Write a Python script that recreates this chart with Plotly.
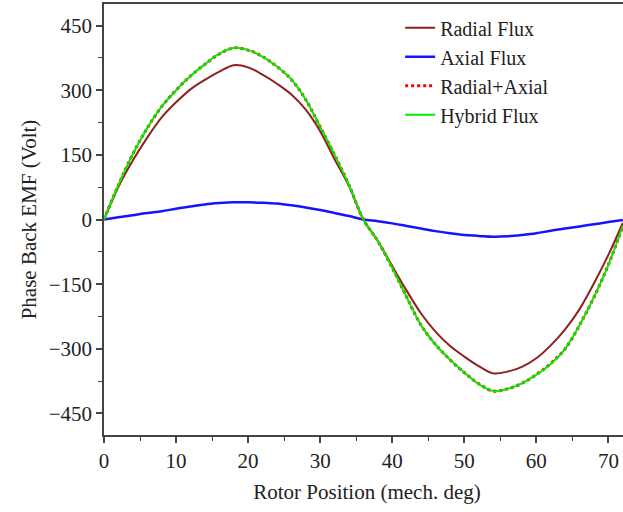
import plotly.graph_objects as go

# Rotor position (mech. deg)
position = [0, 2, 4, 6, 8, 10, 12, 14, 16, 18, 20, 22, 24, 26, 28, 30, 32, 34, 36,
            38, 40, 42, 44, 46, 48, 50, 52, 54, 56, 58, 60, 62, 64, 66, 68, 70, 72]

radial_flux = [0, 76, 137, 190, 237, 272, 302, 324, 343, 358, 353, 336, 315, 290, 255, 205, 140, 78, 0,
               -50, -108, -165, -218, -260, -293, -318, -340, -357, -353, -342, -322, -292, -255, -208, -148, -82, -8]

axial_flux = [0, 5, 10, 15, 19, 25, 30, 35, 38, 40, 40, 39, 37, 33, 28, 22, 15, 8, 0,
              -4, -9, -15, -21, -27, -32, -36, -38, -40, -39, -36, -32, -26, -21, -16, -11, -6, -1]

radial_plus_axial = [0, 80, 152, 212, 262, 300, 333, 360, 384, 398, 393, 378, 355, 325, 278, 215, 150, 80, 0,
                     -50, -112, -180, -245, -290, -325, -355, -381, -398, -393, -380, -360, -334, -300, -245, -180, -105, -15]

hybrid_flux = [0, 80, 152, 212, 262, 300, 333, 360, 385, 398, 393, 378, 355, 325, 278, 215, 150, 80, 0,
               -50, -112, -180, -245, -290, -325, -355, -382, -398, -393, -380, -360, -335, -300, -245, -180, -105, -15]

FONT = "Liberation Serif, Times New Roman, serif"
TXT = "#222222"
AX = "#444444"
FS = 21

fig = go.Figure()
fig.add_trace(go.Scatter(x=position, y=radial_flux, mode="lines", name="Radial Flux",
                         line=dict(color="#8e2121", width=2, shape="spline", smoothing=1),
                         legendgroup="a"))
fig.add_trace(go.Scatter(x=position, y=axial_flux, mode="lines", name="Axial Flux",
                         line=dict(color="#1414ff", width=2.5, shape="spline", smoothing=1),
                         legendgroup="b"))
fig.add_trace(go.Scatter(x=position, y=radial_plus_axial, mode="lines", name="Radial+Axial",
                         line=dict(color="#ff0000", width=3, dash="dot", shape="spline", smoothing=1),
                         legendgroup="c"))
fig.add_trace(go.Scatter(x=position, y=hybrid_flux, mode="lines", name="Hybrid Flux",
                         line=dict(color="#00ee00", width=2, shape="spline", smoothing=1),
                         legendgroup="d"))

# figure is slightly wider than the window so the right edge is cut, as in the reference
fig.update_layout(
    width=630, height=512,
    margin=dict(l=104, r=0, t=4, b=77, autoexpand=False),
    paper_bgcolor="white", plot_bgcolor="white",
    font=dict(family=FONT, size=FS, color=TXT),
    showlegend=True,
    legend=dict(x=0.563, y=0.99, xanchor="left", yanchor="top",
                bgcolor="rgba(0,0,0,0)", font=dict(family=FONT, size=20, color=TXT),
                traceorder="grouped", tracegroupgap=0),
)

fig.update_xaxes(
    range=[0, 73.0], tickmode="array", tickvals=[0, 10, 20, 30, 40, 50, 60, 70],
    ticks="outside", ticklen=6, tickwidth=1.5, tickcolor=AX,
    showline=True, linecolor=AX, linewidth=1.5, mirror=True,
    showgrid=False, zeroline=False, automargin=False,
    minor=dict(dtick=5, tick0=0, ticks="outside", ticklen=4, tickwidth=1.2, tickcolor=AX, showgrid=False),
    tickfont=dict(family=FONT, size=FS, color=TXT),
    title=dict(text="Rotor Position (mech. deg)", font=dict(family=FONT, size=FS, color=TXT), standoff=12),
)
fig.update_yaxes(
    range=[-500, 500], tickmode="array", tickvals=[-450, -300, -150, 0, 150, 300, 450],
    ticks="outside", ticklen=6, tickwidth=1.5, tickcolor=AX,
    showline=True, linecolor=AX, linewidth=1.5, mirror=False,
    showgrid=False, zeroline=False, automargin=False,
    minor=dict(dtick=75, tick0=0, ticks="outside", ticklen=4, tickwidth=1.2, tickcolor=AX, showgrid=False),
    tickfont=dict(family=FONT, size=FS, color=TXT),
    title=dict(text="Phase Back EMF (Volt)", font=dict(family=FONT, size=FS, color=TXT), standoff=6),
)

fig.write_html("out.html", config={"displayModeBar": False},
               post_script="document.body.style.margin='0px';document.body.style.overflow='hidden';")
